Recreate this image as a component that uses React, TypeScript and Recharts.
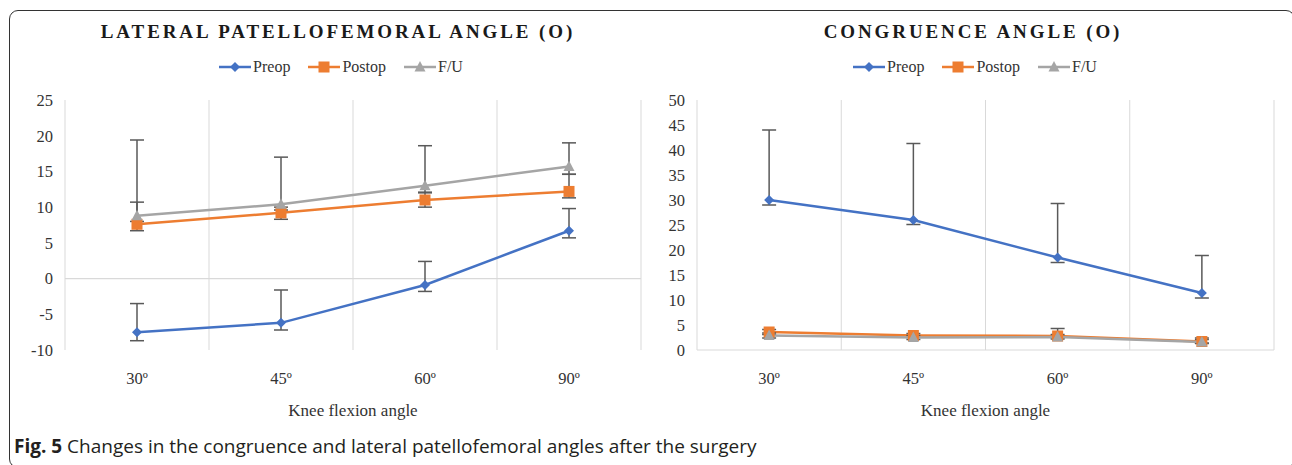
import { LineChart, Line, XAxis, YAxis, CartesianGrid, ErrorBar, ReferenceLine } from 'recharts';

const ANGLES = ['30º', '45º', '60º', '90º'];

// lateral patellofemoral angle, mean with [down, up] error
const LPFA_PREOP = [-7.5, -6.2, -0.9, 6.7];
const LPFA_PREOP_ERR = [[1.2, 4.0], [1.0, 4.6], [0.9, 3.3], [1.0, 3.1]];
const LPFA_POSTOP = [7.6, 9.2, 11.0, 12.2];
const LPFA_POSTOP_ERR = [[0.9, 3.1], [0.9, 0.8], [1.0, 1.0], [0.9, 2.4]];
const LPFA_FU = [8.8, 10.4, 13.0, 15.7];
const LPFA_FU_ERR = [[0.8, 10.6], [0.8, 6.6], [0.9, 5.6], [1.1, 3.3]];
const LPFA_TICKS = [-10, -5, 0, 5, 10, 15, 20, 25];

// congruence angle
const CA_PREOP = [30.0, 26.0, 18.5, 11.4];
const CA_PREOP_ERR = [[1.0, 14.0], [0.9, 15.3], [1.0, 10.8], [1.0, 7.5]];
const CA_POSTOP = [3.6, 2.9, 2.8, 1.7];
const CA_POSTOP_ERR = [[0.5, 0.5], [0.4, 0.4], [0.4, 1.5], [0.3, 0.7]];
const CA_FU = [2.9, 2.5, 2.6, 1.6];
const CA_FU_ERR = [[0.5, 0.5], [0.4, 0.4], [0.4, 0.5], [0.3, 0.5]];
const CA_TICKS = [0, 5, 10, 15, 20, 25, 30, 35, 40, 45, 50];

const BLUE = '#4472C4';
const ORANGE = '#ED7D31';
const GREY = '#A5A5A5';
const SERIF = '"Liberation Serif", "Times New Roman", serif';

const makeRows = (pre, preErr, post, postErr, fu, fuErr) =>
  ANGLES.map((angle, i) => ({
    angle,
    preop: pre[i],
    preopErr: preErr[i],
    postop: post[i],
    postopErr: postErr[i],
    fu: fu[i],
    fuErr: fuErr[i],
  }));

const lpfaRows = makeRows(LPFA_PREOP, LPFA_PREOP_ERR, LPFA_POSTOP, LPFA_POSTOP_ERR, LPFA_FU, LPFA_FU_ERR);
const caRows = makeRows(CA_PREOP, CA_PREOP_ERR, CA_POSTOP, CA_POSTOP_ERR, CA_FU, CA_FU_ERR);

const Diamond = ({ cx, cy, fill }: any) => (
  <path d={`M${cx},${cy - 5}L${cx + 5},${cy}L${cx},${cy + 5}L${cx - 5},${cy}Z`} fill={fill} />
);
const Square = ({ cx, cy, fill }: any) => <rect x={cx - 5.5} y={cy - 5.5} width={11} height={11} fill={fill} />;
const Triangle = ({ cx, cy, fill }: any) => (
  <path d={`M${cx},${cy - 6}L${cx + 5.5},${cy + 4.5}L${cx - 5.5},${cy + 4.5}Z`} fill={fill} />
);

const SERIES = [
  { key: 'preop', name: 'Preop', color: BLUE, Shape: Diamond },
  { key: 'postop', name: 'Postop', color: ORANGE, Shape: Square },
  { key: 'fu', name: 'F/U', color: GREY, Shape: Triangle },
];

// Excel-style gridlines sit between categories, not on them
const bandLines = (props: any) => {
  const off = props.offset || {};
  const left = off.left ?? 0;
  const w = off.width ?? 0;
  return ANGLES.map((_, i) => left + (i * w) / ANGLES.length).concat(left + w);
};

const LegendRow = ({ center }: { center: number }) => (
  <div
    style={{
      position: 'absolute',
      top: 58,
      left: center - 200,
      width: 400,
      display: 'flex',
      justifyContent: 'center',
      gap: 18,
      fontFamily: SERIF,
      fontSize: 16,
      color: '#333',
    }}
  >
    {SERIES.map(({ key, name, color, Shape }) => (
      <span key={key} style={{ display: 'flex', alignItems: 'center' }}>
        <svg width={32} height={14}>
          <line x1={0} y1={7} x2={32} y2={7} stroke={color} strokeWidth={2.5} />
          <Shape cx={16} cy={7} fill={color} />
        </svg>
        <span style={{ marginLeft: 2 }}>{name}</span>
      </span>
    ))}
  </div>
);

const Title = ({ text, center }: { text: string; center: number }) => (
  <div
    style={{
      position: 'absolute',
      top: 21,
      left: center - 300,
      width: 600,
      textAlign: 'center',
      fontFamily: SERIF,
      fontWeight: 'bold',
      fontSize: 19,
      letterSpacing: 2.9,
      color: '#1a1a1a',
    }}
  >
    {text}
  </div>
);

const AngleChart = ({ rows, ticks, left, width, margin }: any) => (
  <div style={{ position: 'absolute', left, top: 0, fontFamily: SERIF }}>
    <LineChart width={width} height={465} data={rows} margin={margin}>
      <CartesianGrid horizontal={false} stroke="#d9d9d9" verticalCoordinatesGenerator={bandLines} />
      <ReferenceLine y={0} stroke="#d9d9d9" strokeWidth={1.2} />
      <XAxis
        dataKey="angle"
        scale="band"
        axisLine={false}
        tickLine={false}
        tickSize={0}
        tickMargin={22}
        height={70}
        tick={{ fill: '#333', fontSize: 16.5, fontFamily: SERIF }}
        label={{ value: 'Knee flexion angle', position: 'insideBottom', offset: 4, fill: '#333', fontSize: 17, fontFamily: SERIF }}
      />
      <YAxis
        domain={[ticks[0], ticks[ticks.length - 1]]}
        ticks={ticks}
        interval={0}
        axisLine={false}
        tickLine={false}
        tickSize={0}
        tickMargin={12}
        width={50}
        tick={{ fill: '#333', fontSize: 16.5, fontFamily: SERIF }}
      />
      {SERIES.map(({ key, name, color, Shape }) => (
        <Line
          key={key}
          dataKey={key}
          name={name}
          stroke={color}
          strokeWidth={2.5}
          isAnimationActive={false}
          dot={(p: any) => <Shape key={`${key}-${p.index}`} cx={p.cx} cy={p.cy} fill={color} />}
          activeDot={false}
        >
          <ErrorBar dataKey={`${key}Err`} direction="y" width={7} stroke="#595959" strokeWidth={1.5} />
        </Line>
      ))}
    </LineChart>
  </div>
);

export default function App() {
  return (
    <div style={{ position: 'absolute', left: 0, top: 0, width: 1292, height: 465, background: '#fff', overflow: 'hidden' }}>
      <div
        style={{
          position: 'absolute',
          left: 9,
          top: 10,
          width: 1286,
          height: 458,
          border: '1.5px solid #333',
          borderRadius: 9,
          boxSizing: 'border-box',
        }}
      />
      <Title text="LATERAL PATELLOFEMORAL ANGLE (O)" center={338} />
      <LegendRow center={341} />
      <Title text="CONGRUENCE ANGLE (O)" center={973} />
      <LegendRow center={975} />
      <AngleChart rows={lpfaRows} ticks={LPFA_TICKS} left={0} width={660} margin={{ top: 100, right: 19, bottom: 45, left: 15 }} />
      <AngleChart rows={caRows} ticks={CA_TICKS} left={640} width={652} margin={{ top: 100, right: 18, bottom: 45, left: 7 }} />
      <div
        style={{
          position: 'absolute',
          left: 14,
          top: 433,
          fontFamily: '"Open Sans", sans-serif',
          fontSize: 19,
          color: '#231f20',
          whiteSpace: 'nowrap',
        }}
      >
        <b>Fig. 5</b> Changes in the congruence and lateral patellofemoral angles after the surgery
      </div>
    </div>
  );
}
